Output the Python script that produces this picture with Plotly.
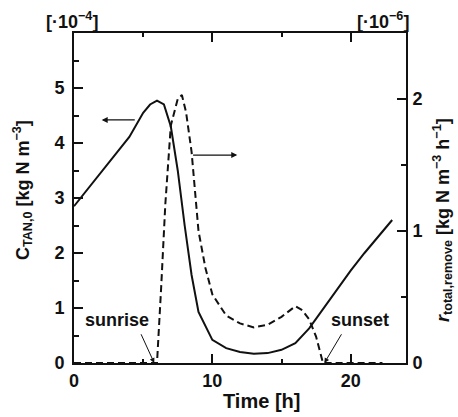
import plotly.graph_objects as go

# Data
time_c = [0, 1, 2, 3, 4, 5, 5.5, 6, 6.5, 7, 7.5, 8, 8.5, 9, 10, 11, 12, 13, 14, 15, 16, 17, 18, 19, 20, 21, 22, 23]
c_tan = [2.85, 3.17, 3.48, 3.8, 4.11, 4.55, 4.7, 4.77, 4.7, 4.3, 3.5, 2.5, 1.6, 0.93, 0.42, 0.27, 0.2, 0.17, 0.18, 0.24, 0.36, 0.63, 0.98, 1.33, 1.68, 2.0, 2.3, 2.6]

time_r = [0, 1, 2, 3, 4, 5, 6, 6.3, 6.6, 7, 7.5, 7.8, 8.1, 8.5, 9, 9.5, 10, 11, 12, 13, 14, 15, 16, 16.5, 17, 17.5, 18, 19, 20, 21, 22, 22.3]
r_remove = [0, 0, 0, 0, 0, 0, 0, 0.57, 1.2, 1.8, 2.0, 2.03, 1.9, 1.6, 1.0, 0.72, 0.52, 0.36, 0.3, 0.27, 0.29, 0.35, 0.43, 0.4, 0.33, 0.2, 0, 0, 0, 0, 0, 0]

x_ticks = [0, 10, 20]
y_ticks = [0, 1, 2, 3, 4, 5]
y2_ticks = [0, 1, 2]

FONT = "Liberation Sans, Arial, sans-serif"
L, R, T, B = 74, 406, 33, 363


def px(xp):
    return (xp - L) / (R - L)


def py(yp):
    return (B - yp) / (B - T)


fig = go.Figure()
fig.add_trace(go.Scatter(x=time_c, y=c_tan, mode="lines",
                         line=dict(color="#111", width=2), yaxis="y"))
fig.add_trace(go.Scatter(x=time_r, y=r_remove, mode="lines",
                         line=dict(color="#111", width=2, dash="7px,4px"), yaxis="y2"))

axis_common = dict(showgrid=False, zeroline=False, linecolor="#111", linewidth=2,
                   ticks="inside", tickcolor="#111", tickwidth=1.5, ticklen=9,
                   tickfont=dict(family=FONT, size=18, color="#111", weight="bold"))

fig.update_layout(
    width=458, height=417,
    margin=dict(l=L, r=458 - R, t=T, b=417 - B),
    plot_bgcolor="white", paper_bgcolor="white",
    showlegend=False,
    xaxis=dict(range=[0, 24], tickvals=x_ticks, ticktext=[str(v) for v in x_ticks],
               mirror="ticks", showline=True,
               minor=dict(dtick=5, tick0=0, ticks="inside", ticklen=4, tickcolor="#111"),
               **axis_common),
    yaxis=dict(range=[0, 6], tickvals=y_ticks, ticktext=[str(v) for v in y_ticks],
               showline=True, ticklabelstandoff=4,
               minor=dict(dtick=0.5, tick0=0, ticks="inside", ticklen=5, tickcolor="#111"),
               **axis_common),
    yaxis2=dict(range=[0, 2.5], tickvals=y2_ticks, ticktext=[str(v) for v in y2_ticks],
                overlaying="y", side="right", showline=True, ticklabelstandoff=1,
                minor=dict(dtick=0.5, tick0=0, ticks="inside", ticklen=5, tickcolor="#111"),
                **axis_common),
)

labels = [
    ("Time [h]", 261, 401, 0, 20),
    ("[·10<sup>−4</sup>]", 72, 20, 0, 18),
    ("[·10<sup>−6</sup>]", 383, 20, 0, 18),
    ("C<sub>TAN,0</sub> [kg N m<sup>−3</sup>]", 23, 190, -90, 18),
    ("<i>r</i><sub>total,remove</sub> [kg N m<sup>−3</sup> h<sup>−1</sup>]", 442, 220, -90, 18),
]
for text, xp, yp, ang, sz in labels:
    fig.add_annotation(text=text, x=px(xp), y=py(yp), xref="paper", yref="paper",
                       showarrow=False, textangle=ang,
                       font=dict(family=FONT, size=sz, color="#111", weight="bold"),
                       xanchor="center", yanchor="middle")

# Direction arrows
fig.add_annotation(x=2.0, y=4.42, ax=4.5, ay=4.42, xref="x", yref="y", axref="x", ayref="y",
                   showarrow=True, arrowhead=2, arrowsize=1, arrowwidth=1.2, arrowcolor="#111", text="")
fig.add_annotation(x=11.8, y=3.78, ax=8.5, ay=3.78, xref="x", yref="y", axref="x", ayref="y",
                   showarrow=True, arrowhead=2, arrowsize=1, arrowwidth=1.2, arrowcolor="#111", text="")

# sunrise / sunset labels
lab_font = dict(family=FONT, size=18, color="#111", weight="bold")
fig.add_annotation(x=5.8, y=0.0, ax=4.8, ay=0.55, xref="x", yref="y", axref="x", ayref="y",
                   showarrow=True, arrowhead=2, arrowsize=1, arrowwidth=1, arrowcolor="#111", text="")
fig.add_annotation(x=3.1, y=0.78, xref="x", yref="y", text="sunrise", showarrow=False, font=lab_font)
fig.add_annotation(x=18.1, y=0.0, ax=19.4, ay=0.55, xref="x", yref="y", axref="x", ayref="y",
                   showarrow=True, arrowhead=2, arrowsize=1, arrowwidth=1, arrowcolor="#111", text="")
fig.add_annotation(x=20.7, y=0.78, xref="x", yref="y", text="sunset", showarrow=False, font=lab_font)

fig.write_html("out.html")
